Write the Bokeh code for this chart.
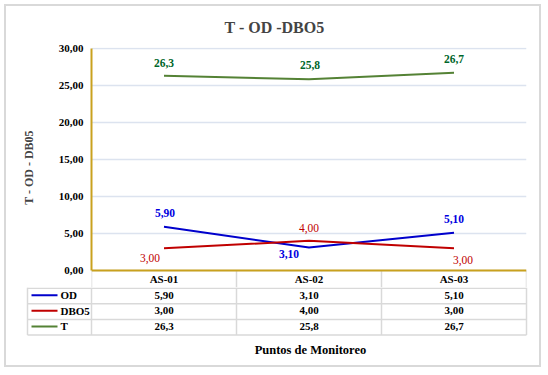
from bokeh.plotting import figure
from bokeh.layouts import column
from bokeh.models import (FactorRange, Range1d, ColumnDataSource, LabelSet, FixedTicker, Span)
from bokeh.embed import file_html
from bokeh.resources import INLINE

# ---- data ----
categories = ["AS-01", "AS-02", "AS-03"]
od_values = [5.90, 3.10, 5.10]
dbo5_values = [3.00, 4.00, 3.00]
t_values = [26.3, 25.8, 26.7]
od_text = ["5,90", "3,10", "5,10"]
dbo5_text = ["3,00", "4,00", "3,00"]
t_text = ["26,3", "25,8", "26,7"]
y_ticks = [0, 5, 10, 15, 20, 25, 30]
y_tick_labels = ["0,00", "5,00", "10,00", "15,00", "20,00", "25,00", "30,00"]
series_names = ["OD", "DBO5", "T"]

# ---- styles ----
C_OD, C_DBO, C_T = "#0000CC", "#C00000", "#548235"
C_OD_L, C_DBO_L, C_T_L = "#0000E0", "#C00000", "#00662A"
GOLD = "#C9A11E"
GRID = "#DCE3EF"
TBL = "#D9D9D9"
FONT = "Liberation Serif"

W = 533
HA, HB = 281, 78
FL, FR, FT = 85, 13, 41
Y_TOP = 30.1
Y_BOT = -2.294          # header row of the data table lies below 0

# ================= chart =================
p = figure(width=W, height=HA, output_backend="svg", toolbar_location=None,
           x_range=FactorRange(factors=categories, range_padding=0),
           y_range=Range1d(Y_BOT, Y_TOP), x_axis_location=None,
           min_border_left=FL, min_border_right=FR, min_border_top=FT,
           min_border_bottom=0, title="T - OD -DBO5")
p.frame_align = False
p.outline_line_color = None
p.title.text_font = FONT
p.title.text_font_style = "bold"
p.title.text_font_size = "16px"
p.title.align = "left"
p.title.offset = 133
p.title.standoff = 22
p.title.vertical_align = "middle"

p.yaxis.ticker = FixedTicker(ticks=y_ticks)
p.yaxis.bounds = (y_ticks[0], y_ticks[-1])
p.yaxis.major_label_overrides = {t: l for t, l in zip(y_ticks, y_tick_labels)}
p.yaxis.axis_line_color = GOLD
p.yaxis.axis_line_width = 2
p.yaxis.major_tick_out = 0
p.yaxis.major_tick_in = 0
p.yaxis.minor_tick_out = 0
p.yaxis.minor_tick_in = 0
p.yaxis.major_label_standoff = 8
p.yaxis.major_label_text_font = FONT
p.yaxis.major_label_text_font_style = "bold"
p.yaxis.major_label_text_font_size = "11px"
p.yaxis.major_label_text_color = "black"
p.yaxis.axis_label = "T - OD - DB05"
p.yaxis.axis_label_text_font = FONT
p.yaxis.axis_label_text_font_style = "bold"
p.yaxis.axis_label_text_font_size = "12px"
p.yaxis.axis_label_standoff = 20

p.xgrid.grid_line_color = None
p.ygrid.grid_line_color = GRID
p.ygrid.grid_line_width = 1.5

# table header row (inside the chart frame, below 0)
n_cat = len(categories)
p.segment(x0=[(categories[0], -0.5)] + [(c, 0.5) for c in categories],
          x1=[(categories[0], -0.5)] + [(c, 0.5) for c in categories],
          y0=[0] * (n_cat + 1), y1=[Y_BOT] * (n_cat + 1),
          line_color=TBL, line_width=1.5)
p.text(x=categories, y=[Y_BOT / 2 + 0.05] * n_cat, text=categories,
       text_align="center", text_baseline="middle", text_font={"value": FONT},
       text_font_style="bold", text_font_size="11px", text_color="black")

# golden x axis line at 0
p.add_layout(Span(location=0, dimension="width", line_color=GOLD, line_width=2))

p.line(categories, t_values, line_color=C_T, line_width=2)
p.line(categories, od_values, line_color=C_OD, line_width=2)
p.line(categories, dbo5_values, line_color=C_DBO, line_width=2)

def add_labels(vals, texts, color, bold, xo, yo):
    src = ColumnDataSource(dict(x=categories, y=vals, t=texts, xo=xo, yo=yo))
    p.add_layout(LabelSet(x="x", y="y", text="t", source=src, x_offset="xo", y_offset="yo",
                          text_align="center", text_baseline="middle",
                          text_font=FONT, text_font_size="11.5px",
                          text_font_style="bold" if bold else "normal",
                          text_color=color))

add_labels(t_values, t_text, C_T_L, True, [0, 1, 0], [13, 14, 14])
add_labels(od_values, od_text, C_OD_L, True, [1, -20, 0], [14, -6, 14])
add_labels(dbo5_values, dbo5_text, C_DBO_L, False, [-14, 0, 9], [-10, 13, -12])

# ================= data table rows =================
px_per_cat = (W - FL - FR) / 3.0
q = figure(width=W, height=HB, output_backend="svg", toolbar_location=None,
           x_range=Range1d(-FL / px_per_cat, 3 + FR / px_per_cat),
           y_range=Range1d(HB, 0), x_axis_location=None, y_axis_location=None,
           min_border_left=0, min_border_right=0, min_border_top=0, min_border_bottom=0)
q.frame_align = False
q.outline_line_color = None
q.xgrid.grid_line_color = None
q.ygrid.grid_line_color = None

cat_pos = [i + 0.5 for i in range(n_cat)]
row_top = 0.75
row_h = 15.6
leg_left = -64 / px_per_cat
table_bottom = row_top + 3 * row_h

hy = [row_top + row_h * i for i in range(4)]
q.segment(x0=[leg_left] * 4, x1=[3] * 4, y0=hy, y1=hy, line_color=TBL, line_width=1.5)
q.segment(x0=[leg_left, 0, 1, 2, 3], x1=[leg_left, 0, 1, 2, 3], y0=[0] * 5,
          y1=[table_bottom] * 5, line_color=TBL, line_width=1.5)

row_texts = [od_text, dbo5_text, t_text]
for r, texts in enumerate(row_texts):
    ry = row_top + row_h * (r + 0.5) - 0.8
    q.text(x=cat_pos, y=[ry] * n_cat, text=texts,
           text_align="center", text_baseline="middle", text_font={"value": FONT},
           text_font_style="bold", text_font_size="11px", text_color="black")

for r, (name, col) in enumerate(zip(series_names, [C_OD, C_DBO, C_T])):
    ry = row_top + row_h * (r + 0.5) - 0.8
    q.segment(x0=[leg_left + 4 / px_per_cat], x1=[leg_left + 30 / px_per_cat],
              y0=[ry], y1=[ry], line_color=col, line_width=2)
    q.text(x=[leg_left + 33 / px_per_cat], y=[ry], text=[name],
           text_align="left", text_baseline="middle", text_font={"value": FONT},
           text_font_style="bold", text_font_size="11px", text_color="black")

q.text(x=[1.51], y=[62], text=["Puntos de Monitoreo"], text_align="center",
       text_baseline="middle", text_font={"value": FONT}, text_font_style="bold",
       text_font_size="12.5px", text_color="black")

layout = column(p, q, spacing=0,
                styles={"border": "2px solid #D9D9D9", "margin": "4px 0px 0px 4px"})

open("out.html", "w").write(file_html(layout, INLINE))
